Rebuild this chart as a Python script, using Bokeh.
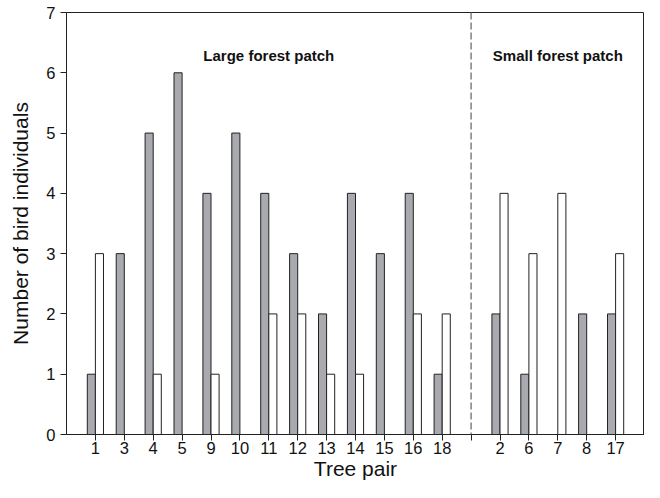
from bokeh.plotting import figure
from bokeh.models import FixedTicker, Range1d, Span, Label
from bokeh.embed import file_html
from bokeh.resources import INLINE

# ---- data ----
large_pairs = ["1", "3", "4", "5", "9", "10", "11", "12", "13", "14", "15", "16", "18"]
small_pairs = ["2", "6", "7", "8", "17"]
large_grey = [1, 3, 5, 6, 4, 5, 4, 3, 2, 4, 3, 4, 1]
large_white = [3, 0, 1, 0, 1, 0, 2, 2, 1, 1, 0, 2, 2]
small_grey = [2, 1, 0, 2, 2]
small_white = [4, 3, 4, 0, 3]
y_ticks = [0, 1, 2, 3, 4, 5, 6, 7]

FONT = "Liberation Sans"

# positions: large pairs in slots 1..n, a divider slot, then small pairs
n_large = len(large_pairs)
divider = n_large + 1
large_x = list(range(1, n_large + 1))
small_x = list(range(divider + 1, divider + 1 + len(small_pairs)))
all_x = large_x + small_x
all_labels = large_pairs + small_pairs
grey_vals = large_grey + small_grey
white_vals = large_white + small_white
x_max = small_x[-1] + 1

p = figure(width=644, height=482, output_backend="svg", toolbar_location=None,
           x_range=Range1d(0, x_max), y_range=Range1d(0, 7))
p.min_border_left = 66
p.min_border_top = 12
p.min_border_right = 0
p.min_border_bottom = 10

bw = 0.28
p.vbar(x=[x - bw / 2 for x in all_x], width=bw, top=grey_vals, bottom=0,
       fill_color="#a9aaaf", line_color="#222222", line_width=1)
p.vbar(x=[x + bw / 2 for x in all_x], width=bw, top=white_vals, bottom=0,
       fill_color="#ffffff", line_color="#222222", line_width=1)

p.add_layout(Span(location=divider, dimension="height", line_color="#808080",
                  line_width=1.5, line_dash="7 3"))

p.add_layout(Label(x=(large_x[0] + large_x[-1]) / 2, y=6.28, text="Large forest patch",
                   text_font=FONT, text_font_style="bold", text_font_size="15px",
                   text_align="center", text_baseline="middle", text_color="#111111"))
p.add_layout(Label(x=(small_x[0] + small_x[-1]) / 2, y=6.28, text="Small forest patch",
                   text_font=FONT, text_font_style="bold", text_font_size="15px",
                   text_align="center", text_baseline="middle", text_color="#111111"))

p.xgrid.visible = False
p.ygrid.visible = False
p.outline_line_color = "#222222"
p.outline_line_width = 1

p.xaxis.ticker = FixedTicker(ticks=all_x + [divider])
overrides = {x: lab for x, lab in zip(all_x, all_labels)}
overrides[divider] = ""
p.xaxis.major_label_overrides = overrides
p.yaxis.ticker = FixedTicker(ticks=y_ticks)

for ax in (p.xaxis[0], p.yaxis[0]):
    ax.axis_line_color = "#222222"
    ax.major_tick_line_color = "#222222"
    ax.minor_tick_line_color = None
    ax.major_tick_in = 0
    ax.major_tick_out = 6
    ax.major_label_text_font = FONT
    ax.major_label_text_font_size = "16.5px"
    ax.major_label_text_color = "#111111"
    ax.axis_label_text_font = FONT
    ax.axis_label_text_font_size = "21px"
    ax.axis_label_text_font_style = "normal"
    ax.axis_label_text_color = "#111111"

p.xaxis.axis_label = "Tree pair"
p.yaxis.axis_label = "Number of bird individuals"
p.xaxis.major_label_standoff = 1
p.xaxis.axis_label_standoff = 0
p.yaxis.major_label_standoff = 5
p.yaxis.axis_label_standoff = 11

open("out.html", "w").write(file_html(p, INLINE))
